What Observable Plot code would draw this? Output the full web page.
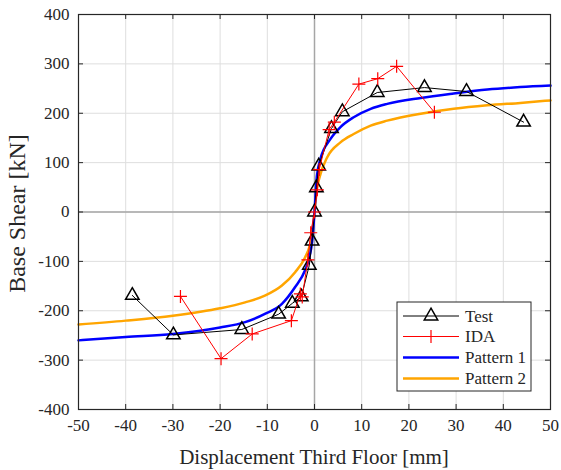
<!DOCTYPE html>
<html>
<head>
<meta charset="utf-8">
<script src="https://cdn.jsdelivr.net/npm/d3@7"></script>
<script src="https://cdn.jsdelivr.net/npm/@observablehq/plot@0.6"></script>
<style>
  html, body { margin: 0; padding: 0; background: #fff; }
  #chart { width: 561px; height: 470px; }
</style>
</head>
<body>
<div id="chart"></div>
<script>
// ---- data ----
const testX = [-38.6, -29.9, -15.4, -7.6, -4.7, -2.8, -1.1, -0.5, 0, 0.4, 0.9, 3.6, 5.9, 13.3, 23.3, 32.2, 44.3];
const testY = [-169, -249, -238, -207, -185, -172, -108, -59, 0, 49, 93, 169, 203, 242, 252, 244, 182];

const idaX = [-28.4, -19.8, -13.2, -4.9, -3.0, -2.6, -1.4, -0.8, 0, 0.6, 1.0, 3.1, 4.2, 9.4, 13.4, 17.4, 25.4];
const idaY = [-171, -297, -247, -220, -166, -172, -97, -42, 0, 45, 86, 167, 182, 259, 270, 295, 202];

const p1X = [-50, -40, -30, -20, -14.7, -10.4, -6.9, -4.1, -2, -1, -0.5, 0, 0.5, 1.27, 3.4, 5.5, 8.3, 11.9, 15.4, 22.5, 29.5, 36.6, 43.6, 50];
const p1Y = [-260, -253, -247, -234, -223, -206, -186, -152, -118, -88, -60, 0, 72, 108, 148, 172, 192, 209, 219, 231, 240, 248, 253, 256];

const p2X = [-50, -40, -30, -20, -14.7, -10.4, -6.9, -4.1, -2, -1, -0.5, 0, 0.5, 1, 2.7, 5.5, 8.3, 11.9, 15.4, 22.5, 29.5, 36.6, 43.6, 50];
const p2Y = [-228, -220, -210, -195, -183, -169, -149, -122, -92, -68, -45, 0, 45, 68, 111, 141, 158, 175, 185, 199, 209, 216, 221, 226];

const xTicks = [-50, -40, -30, -20, -10, 0, 10, 20, 30, 40, 50];
const yTicks = [-400, -300, -200, -100, 0, 100, 200, 300, 400];

const seriesNames = ["Test", "IDA", "Pattern 1", "Pattern 2"];
const seriesColors = ["#000000", "#ff0000", "#0000ff", "#ffa500"];

// ---- tables ----
const zip = (xs, ys) => xs.map((x, i) => ({x, y: ys[i]}));
const test = zip(testX, testY);
const ida = zip(idaX, idaY);
const p1 = zip(p1X, p1Y);
const p2 = zip(p2X, p2Y);

// thin plus symbol
const thinPlus = {
  draw(ctx, size) {
    const h = Math.sqrt(size / Math.PI);
    ctx.moveTo(-h, 0); ctx.lineTo(h, 0);
    ctx.moveTo(0, -h); ctx.lineTo(0, h);
  }
};

const W = 561, H = 470;
const mL = 78, mR = 11, mT = 14, mB = 61;
const FONT = "'Liberation Serif', 'Times New Roman', serif";
const axisCol = "#262626";

const chart = Plot.plot({
  width: W, height: H,
  marginLeft: mL, marginRight: mR, marginTop: mT, marginBottom: mB,
  style: {fontFamily: FONT, fontSize: "17px", color: axisCol, background: "#fff"},
  x: {domain: [-50, 50], ticks: xTicks},
  y: {domain: [-400, 400], ticks: yTicks},
  marks: [
    Plot.gridX(xTicks, {stroke: "#dedede", strokeOpacity: 1, strokeWidth: 1}),
    Plot.gridY(yTicks, {stroke: "#dedede", strokeOpacity: 1, strokeWidth: 1}),
    Plot.ruleX([0], {stroke: "#a6a6a6", strokeWidth: 1.5}),
    Plot.ruleY([0], {stroke: "#a6a6a6", strokeWidth: 1.5}),
    // inward ticks (bottom/top/left/right)
    Plot.ruleX(xTicks, {stroke: axisCol, insetTop: H - mT - mB - 5}),
    Plot.ruleX(xTicks, {stroke: axisCol, insetBottom: H - mT - mB - 5}),
    Plot.ruleY(yTicks, {stroke: axisCol, insetRight: W - mL - mR - 5}),
    Plot.ruleY(yTicks, {stroke: axisCol, insetLeft: W - mL - mR - 5}),
    Plot.axisX(xTicks, {tickSize: 0, tickPadding: 9, label: null, fontSize: 17, tickFormat: d => String(d)}),
    Plot.axisY(yTicks, {tickSize: 0, tickPadding: 9, label: null, fontSize: 17, tickFormat: d => String(d)}),
    Plot.line(p2, {x: "x", y: "y", stroke: seriesColors[3], strokeWidth: 2.5, curve: "monotone-x"}),
    Plot.line(p1, {x: "x", y: "y", stroke: seriesColors[2], strokeWidth: 2.5, curve: "monotone-x"}),
    Plot.line(test, {x: "x", y: "y", stroke: seriesColors[0], strokeWidth: 1}),
    Plot.dot(test, {x: "x", y: "y", symbol: "triangle", r: 5, stroke: seriesColors[0], strokeWidth: 1.5, fill: "none"}),
    Plot.line(ida, {x: "x", y: "y", stroke: seriesColors[1], strokeWidth: 1}),
    Plot.dot(ida, {x: "x", y: "y", symbol: thinPlus, r: 6.5, stroke: seriesColors[1], strokeWidth: 1.2, fill: "none"}),
    Plot.frame({stroke: axisCol, strokeWidth: 1.2})
  ]
});

document.getElementById("chart").appendChild(chart);

const svg = d3.select(chart);

// axis titles
svg.append("text")
  .attr("x", mL + (W - mL - mR) / 2).attr("y", 464)
  .attr("text-anchor", "middle")
  .style("font-family", FONT).style("font-size", "21px").attr("fill", axisCol)
  .text("Displacement Third Floor [mm]");
svg.append("text")
  .attr("transform", `translate(25,${mT + (H - mT - mB) / 2 + 2}) rotate(-90)`)
  .attr("text-anchor", "middle")
  .style("font-family", FONT).style("font-size", "24px").attr("fill", axisCol)
  .text("Base Shear [kN]");

// legend
const lg = svg.append("g").attr("transform", "translate(397,302)");
lg.append("rect").attr("width", 134).attr("height", 89)
  .attr("fill", "#fff").attr("stroke", axisCol).attr("stroke-width", 1);
const rowY = [14, 34.5, 55.5, 76.5];
const widths = [1, 1, 2.5, 2.5];
seriesNames.forEach((name, i) => {
  const y = rowY[i];
  lg.append("line").attr("x1", 6).attr("x2", 62).attr("y1", y).attr("y2", y)
    .attr("stroke", seriesColors[i]).attr("stroke-width", widths[i]);
  if (i === 0) {
    lg.append("path").attr("transform", `translate(34,${y})`)
      .attr("d", d3.symbol(d3.symbolTriangle, 25 * Math.PI)())
      .attr("fill", "none").attr("stroke", "#000").attr("stroke-width", 1.5);
  }
  if (i === 1) {
    lg.append("path").attr("transform", `translate(34,${y})`)
      .attr("d", "M-6.5,0L6.5,0M0,-6.5L0,6.5")
      .attr("fill", "none").attr("stroke", "#f00").attr("stroke-width", 1.2);
  }
  lg.append("text").attr("x", 68).attr("y", y).attr("dy", "0.35em")
    .attr("text-anchor", "start")
    .style("font-family", FONT).style("font-size", "17px").attr("fill", axisCol)
    .text(name);
});
</script>
</body>
</html>
